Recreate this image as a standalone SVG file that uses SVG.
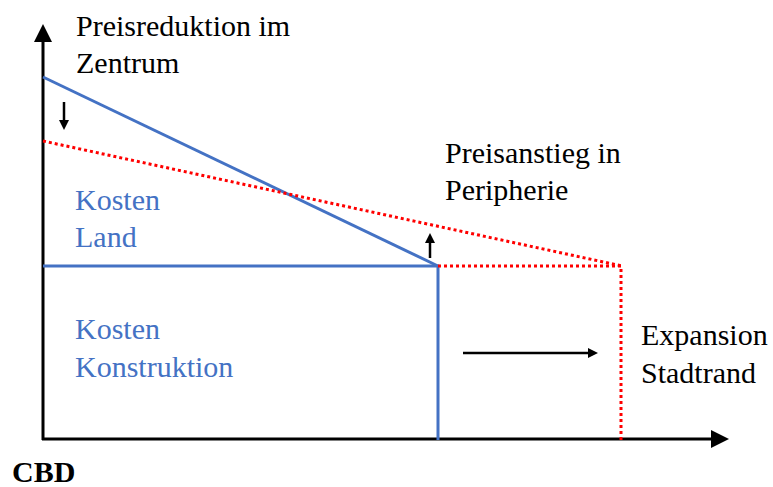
<svg xmlns="http://www.w3.org/2000/svg" width="773" height="487" viewBox="0 0 773 487">
<style>
.b{fill:#4472C4}
.blue{stroke:#4472C4;stroke-width:3;fill:none}
.red{stroke:#FF0000;stroke-width:3;stroke-dasharray:3 3;fill:none}
.ax{stroke:#000;stroke-width:3;fill:none}
.ar{stroke:#000;stroke-width:2.5;fill:none}
</style>
<defs>
<marker id="big" markerWidth="6" markerHeight="6" refX="0" refY="3" orient="auto" markerUnits="strokeWidth"><path d="M0,0 L6,3 L0,6 Z" fill="#000"/></marker>
<marker id="sm" markerWidth="4" markerHeight="4" refX="0" refY="2" orient="auto" markerUnits="strokeWidth"><path d="M0,0 L4,2 L0,4 Z" fill="#000"/></marker>
</defs>
<g id="connectors">
<path class="ax" d="M43,440 L43,42" marker-end="url(#big)"/>
<path class="ax" d="M42,439 L711,439" marker-end="url(#big)"/>
<path class="blue" d="M43,77 L438,266"/>
<path class="blue" d="M43,266 L438,266 L438,440"/>
<path class="red" d="M43,141 L622,266"/>
<path class="red" d="M438,266 L621,266 L621,440"/>
<path class="ar" d="M64,102 L64,120" marker-end="url(#sm)"/>
<path class="ar" d="M430,258 L430,243" marker-end="url(#sm)"/>
<path class="ar" d="M463,353 L588,353" marker-end="url(#sm)"/>
</g>
<g font-family="Liberation Serif, Times New Roman, serif" font-size="30" fill="#000">
<g id="label-zentrum"><text x="76" y="36">Preisreduktion im</text><text x="76" y="73">Zentrum</text></g>
<g id="label-peripherie"><text x="445" y="163">Preisanstieg in</text><text x="445" y="200">Peripherie</text></g>
<g id="label-land"><text class="b" x="75" y="210">Kosten</text><text class="b" x="75" y="247">Land</text></g>
<g id="label-konstruktion"><text class="b" x="75" y="339">Kosten</text><text class="b" x="75" y="377">Konstruktion</text></g>
<g id="label-expansion"><text x="641" y="345">Expansion</text><text x="641" y="383">Stadtrand</text></g>
<g id="label-cbd"><text x="12" y="482" font-weight="bold">CBD</text></g>
</g>
</svg>
